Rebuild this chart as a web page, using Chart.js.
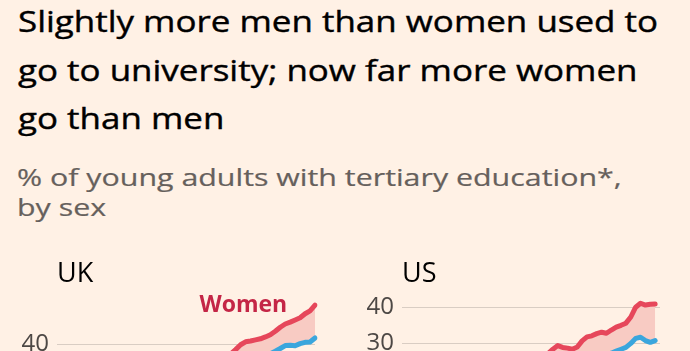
<!DOCTYPE html>
<html>
<head>
<meta charset="utf-8">
<script src="https://cdn.jsdelivr.net/npm/chart.js@4.4.1/dist/chart.umd.min.js"></script>
<style>
  html, body { margin: 0; padding: 0; width: 690px; height: 351px; overflow: hidden; background: #fff1e5; }
  body { position: relative; font-family: "Open Sans", sans-serif; }
  #title { position: absolute; left: 18px; top: -3px; font-size: 30px; line-height: 48.5px; color: #000;
           -webkit-text-stroke: 0.4px #000;
           white-space: nowrap; transform: scaleX(1.165); transform-origin: 0 0; }
  #subtitle { position: absolute; left: 17px; top: 162px; font-size: 24px; line-height: 30px; color: #66605c;
              -webkit-text-stroke: 0.2px #66605c;
              white-space: nowrap; transform: scaleX(1.265); transform-origin: 0 0; }
  .panel-label { position: absolute; top: 258px; font-size: 27px; line-height: 1; color: #000; }
  .chart-box { position: absolute; top: 275px; width: 345px; height: 217px; }
</style>
</head>
<body>
<div id="title">Slightly more men than women used to<br>go to university; now far more women<br>go than men</div>
<div id="subtitle">% of young adults with tertiary education*,<br>by sex</div>

<div class="chart-box" style="left:0"><canvas id="ukChart"></canvas></div>
<div class="chart-box" style="left:345px"><canvas id="usChart"></canvas></div>
<div class="panel-label" style="left:57px">UK</div>
<div class="panel-label" style="left:402px">US</div>

<script>
const years = [
  1970, 1971, 1972, 1973, 1974, 1975, 1976, 1977, 1978, 1979,
  1980, 1981, 1982, 1983, 1984, 1985, 1986, 1987, 1988, 1989,
  1990, 1991, 1992, 1993, 1994, 1995, 1996, 1997, 1998, 1999,
  2000, 2001, 2002, 2003, 2004, 2005, 2006, 2007, 2008, 2009,
  2010, 2011, 2012, 2013, 2014, 2015, 2016, 2017, 2018, 2019,
  2020, 2021, 2022
];

const ukWomen = [
  7.5, 7.9, 8.3, 8.6, 9.0, 9.4, 9.7, 10.1, 10.4, 10.8,
  11.3, 11.8, 12.4, 13.1, 13.9, 14.8, 15.9, 17.0, 18.4, 19.9,
  21.6, 23.3, 24.9, 26.3, 27.4, 28.4, 29.2, 30.0, 30.7, 31.5,
  32.3, 33.1, 34.0, 34.8, 35.6, 36.3, 38.0, 39.8, 40.9, 41.2,
  41.6, 42.0, 42.7, 43.5, 44.8, 46.3, 47.5, 48.2, 49.0, 49.8,
  51.3, 52.4, 54.5
];
const ukMen = [
  9.2, 9.5, 9.8, 10.1, 10.4, 10.7, 11.0, 11.3, 11.6, 11.9,
  12.3, 12.8, 13.4, 14.0, 14.7, 15.5, 16.4, 17.3, 18.4, 19.6,
  20.9, 22.1, 23.2, 24.2, 25.0, 25.7, 26.3, 26.9, 27.5, 28.0,
  28.6, 29.2, 29.8, 30.4, 31.0, 31.6, 32.2, 32.8, 33.4, 34.0,
  34.6, 35.2, 35.8, 36.5, 37.4, 38.4, 39.5, 39.6, 39.4, 40.2,
  40.7, 40.8, 42.3
];
const usWomen = [
  12.0, 12.3, 12.7, 13.1, 13.6, 14.1, 14.6, 15.0, 15.4, 15.8,
  16.2, 16.5, 16.9, 17.3, 17.7, 18.2, 18.7, 19.2, 19.7, 20.3,
  20.9, 21.6, 22.3, 23.0, 23.7, 24.4, 25.0, 25.6, 26.1, 26.7,
  27.2, 28.4, 29.4, 28.9, 28.7, 28.4, 29.0, 30.7, 31.8, 32.1,
  32.7, 33.1, 32.8, 33.7, 34.5, 35.0, 35.6, 37.3, 40.0, 41.1,
  40.6, 40.8, 40.9
];
const usMen = [
  14.5, 15.2, 15.8, 16.3, 16.8, 17.2, 17.6, 17.9, 18.1, 18.3,
  18.4, 18.5, 18.7, 18.8, 19.0, 19.2, 19.4, 19.6, 19.9, 20.2,
  20.5, 20.8, 21.2, 21.6, 22.0, 22.3, 22.6, 22.9, 23.2, 23.5,
  23.7, 24.0, 24.3, 24.6, 24.9, 25.2, 25.5, 25.8, 26.1, 26.4,
  26.6, 26.8, 27.0, 27.3, 27.9, 28.4, 28.9, 30.0, 31.4, 31.7,
  30.8, 30.3, 30.8
];

const ukTicks = [0, 20, 40];
const usTicks = [0, 10, 20, 30, 40];

const WOMEN_LINE = "#e6475b";
const WOMEN_TEXT = "#c42646";
const MEN_LINE = "#3aa6dd";
const GAP_FILL = "#f8cbc3";

// writes series names next to the lines, anchored in data units
const seriesLabels = {
  id: "seriesLabels",
  afterDatasetsDraw(chart, args, opts) {
    const items = opts.items || [];
    const { ctx, scales } = chart;
    ctx.save();
    ctx.font = 'bold 23px "Open Sans"';
    ctx.textAlign = "right";
    ctx.textBaseline = "alphabetic";
    items.forEach((item) => {
      ctx.fillStyle = item.color;
      const px = scales.x.getPixelForValue(years.indexOf(item.year) + (item.shift || 0));
      const py = scales.y.getPixelForValue(item.value);
      ctx.fillText(item.text, px, py);
    });
    ctx.restore();
  },
};

function makeChart(canvasId, women, men, yMax, yTicks, labels) {
  return new Chart(document.getElementById(canvasId), {
    type: "line",
    data: {
      labels: years,
      datasets: [
        {
          label: "Women",
          data: women,
          borderColor: WOMEN_LINE,
          backgroundColor: GAP_FILL,
          fill: "+1",
          borderWidth: 5,
          pointRadius: 0,
          tension: 0,
          borderCapStyle: "round",
          borderJoinStyle: "round",
        },
        {
          label: "Men",
          data: men,
          borderColor: MEN_LINE,
          fill: false,
          borderWidth: 5,
          pointRadius: 0,
          tension: 0,
          borderCapStyle: "round",
          borderJoinStyle: "round",
        },
      ],
    },
    options: {
      responsive: true,
      maintainAspectRatio: false,
      animation: false,
      layout: { padding: { top: 25, left: 20, right: 30, bottom: 0 } },
      plugins: {
        legend: { display: false },
        tooltip: { enabled: false },
        filler: { drawTime: "beforeDatasetsDraw" },
        seriesLabels: { items: labels },
      },
      scales: {
        x: {
          grid: { display: false },
          border: { display: false },
          ticks: {
            color: "#4d4845",
            font: { family: "Open Sans", size: 20 },
            maxRotation: 0,
            autoSkip: true,
            maxTicksLimit: 3,
          },
          afterFit(scale) {
            scale.height = 40;
          },
        },
        y: {
          min: 0,
          max: yMax,
          afterBuildTicks(scale) {
            scale.ticks = yTicks.map((v) => ({ value: v }));
          },
          afterFit(scale) {
            scale.width = 37;
          },
          grid: { color: "#d9cdc3", lineWidth: 1, drawTicks: false },
          border: { display: false },
          ticks: {
            padding: 8,
            color: "#4d4845",
            font: { family: "Open Sans", size: 24 },
          },
        },
      },
    },
    plugins: [seriesLabels],
  });
}

makeChart("ukChart", ukWomen, ukMen, 56.4, ukTicks, [
  { text: "Women", year: 2016, shift: 0.4, value: 52, color: WOMEN_TEXT },
  { text: "Men", year: 2016, value: 30, color: MEN_LINE },
]);
makeChart("usChart", usWomen, usMen, 42, usTicks, []);
</script>
</body>
</html>
